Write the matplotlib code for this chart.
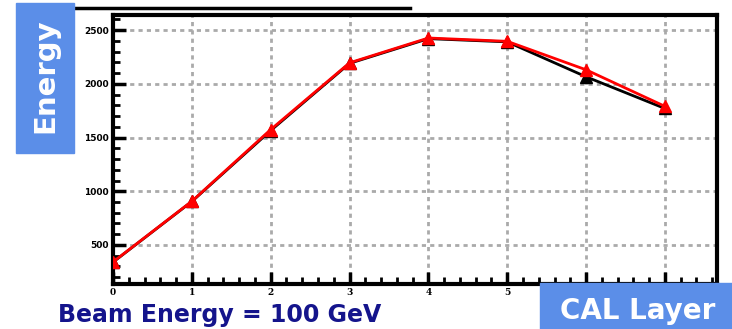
import numpy as np
import matplotlib
matplotlib.use('Agg')
import matplotlib.pyplot as plt
from matplotlib.patches import Rectangle
from matplotlib.ticker import MultipleLocator

layers = [0, 1, 2, 3, 4, 5, 6, 7]
energy_black = [340, 905, 1565, 2190, 2420, 2390, 2065, 1770]
energy_red = [342, 907, 1574, 2195, 2426, 2395, 2130, 1790]
xtick_labels = ['0', '1', '2', '3', '4', '5', '6', '7']
ytick_vals = [500, 1000, 1500, 2000, 2500]

W, H = 732, 329
fig = plt.figure(figsize=(W / 100, H / 100), dpi=100)
fig.patch.set_facecolor('white')

ax = fig.add_axes([113 / W, 1 - 284 / H, (717 - 113) / W, (284 - 15) / H])
ax.set_xlim(0, 7.66)
ax.set_ylim(137, 2640)

ax.plot(layers, energy_black, color='black', lw=2, marker='^', ms=8, zorder=3)
ax.plot(layers, energy_red, color='red', lw=2, marker='^', ms=8, zorder=4)

ax.set_xticks(layers)
ax.set_xticklabels(xtick_labels, fontsize=6.5, family='DejaVu Serif', fontweight='bold')
ax.set_yticks(ytick_vals)
ax.set_yticklabels([str(v) for v in ytick_vals], fontsize=6.5, fontweight='bold')
ax.xaxis.set_minor_locator(MultipleLocator(0.2))
ax.yaxis.set_minor_locator(MultipleLocator(100))
ax.tick_params(which='major', direction='in', length=9, width=2.5, pad=3)
ax.tick_params(which='minor', direction='in', length=5, width=2)
ax.tick_params(top=False, right=False, which='both')
ax.grid(True, which='major', color='#aaaaaa', lw=2, linestyle=(0, (1.5, 1.5)))
for s in ax.spines.values():
    s.set_linewidth(3)

# decorations from the slide
fig.add_artist(plt.Line2D([75 / W, 410 / W], [1 - 8 / H, 1 - 8 / H], color='black', lw=2.5))
fig.add_artist(Rectangle((16 / W, 1 - 153 / H), 58 / W, 150 / H, color='#5b8ee8', zorder=5))
fig.text(45 / W, 1 - 76 / H, 'Energy', color='white', fontsize=21, fontweight='bold',
         rotation=90, ha='center', va='center', zorder=6)
fig.add_artist(Rectangle((540 / W, 0), 192 / W, 46 / H, color='#5b8ee8', zorder=5))
fig.text(638 / W, 1 - 311 / H, 'CAL Layer', color='white', fontsize=20, fontweight='bold',
         ha='center', va='center', zorder=6)
fig.text(58 / W, 2 / H, 'Beam Energy = 100 GeV', color='#14148c', fontsize=17,
         fontweight='bold', ha='left', va='bottom', zorder=6)

fig.savefig('out.png', dpi=100)
